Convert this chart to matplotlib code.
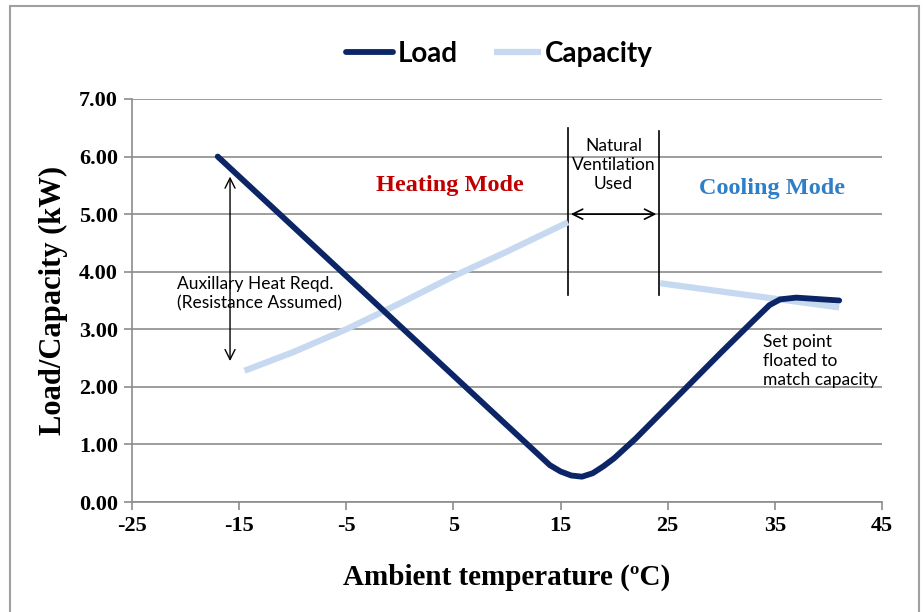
import numpy as np
import matplotlib.pyplot as plt
from matplotlib.patches import Rectangle

# data
load_t = [-17, -10, 0, 10, 14, 15, 16, 17, 18, 19, 20, 22, 26, 30, 33, 34.5, 35.5, 37, 41]
load_kw = [6.0, 4.79, 3.06, 1.33, 0.64, 0.53, 0.46, 0.44, 0.5, 0.62, 0.76, 1.1, 1.85, 2.6, 3.15, 3.42, 3.52, 3.55, 3.5]

cap_heat_t = [-14.5, -10, -5, 0, 5, 10, 15.7]
cap_heat_kw = [2.28, 2.6, 3.0, 3.45, 3.92, 4.35, 4.86]
cap_cool_t = [24.3, 41]
cap_cool_kw = [3.8, 3.38]

xticks = [-25, -15, -5, 5, 15, 25, 35, 45]
yticks = [0, 1, 2, 3, 4, 5, 6, 7]

navy = '#0b2566'
pale = '#c6d9f1'
grid = '#8c8c8c'
serif = 'Liberation Serif'
sans = 'Lato'

fig = plt.figure(figsize=(9.23, 6.12), dpi=100)
ax = fig.add_axes([132/923, 1-502/612, 750/923, 403/612])

ax.plot(cap_heat_t, cap_heat_kw, color=pale, lw=4.5, solid_capstyle='butt', label='Capacity', zorder=3)
ax.plot(cap_cool_t, cap_cool_kw, color=pale, lw=4.5, solid_capstyle='butt', zorder=3)
ax.plot(load_t, load_kw, color=navy, lw=4.2, solid_capstyle='round', solid_joinstyle='round',
        label='Load', zorder=4)

ax.set_xlim(-25, 45)
ax.set_ylim(0, 7)
ax.set_xticks(xticks)
ax.set_yticks(yticks)
ax.set_xticklabels([str(t) for t in xticks], fontfamily=serif, fontweight='bold', fontsize=16)
ax.set_yticklabels(['%.2f' % v for v in yticks], fontfamily=serif, fontweight='bold', fontsize=16)
ax.yaxis.grid(True, color=grid, lw=1.2)
ax.set_axisbelow(True)
for s in ['top', 'right']:
    ax.spines[s].set_visible(False)
for s in ['left', 'bottom']:
    ax.spines[s].set_color(grid)
    ax.spines[s].set_linewidth(1.2)
ax.tick_params(axis='both', color=grid, length=6, width=1.2, pad=4)

ax.set_xlabel('Ambient temperature (ºC)', fontfamily=serif, fontweight='bold', fontsize=21, labelpad=20)
ax.set_ylabel('Load/Capacity (kW)', fontfamily=serif, fontweight='bold', fontsize=22, labelpad=8)

h, l = ax.get_legend_handles_labels()
fig.legend([h[1], h[0]], [l[1], l[0]], loc='center', bbox_to_anchor=(0.541, 1-54/612), ncol=2,
           frameon=False, prop={'family': sans, 'weight': 'bold', 'size': 20},
           handlelength=1.7, handletextpad=0.15, columnspacing=1.3)

# annotations
ax.annotate('', xy=(-15.85, 5.7), xytext=(-15.85, 2.4),
            arrowprops=dict(arrowstyle='<->', color='black', lw=1, mutation_scale=18))
ax.text(-20.8, 3.62, 'Auxillary Heat Reqd.\n(Resistance Assumed)', fontfamily=sans, fontsize=12.5,
        ha='left', va='center', linespacing=1.3)

ax.plot([15.7, 15.7], [3.6, 6.5], color='black', lw=1.2)
ax.plot([24.2, 24.2], [3.6, 6.45], color='black', lw=1.2)
ax.annotate('', xy=(15.7, 5.0), xytext=(24.2, 5.0),
            arrowprops=dict(arrowstyle='<->', color='black', lw=1.2, mutation_scale=18))
ax.text(19.95, 5.85, 'Natural\nVentilation\nUsed', fontfamily=sans, fontsize=12.5,
        ha='center', va='center', linespacing=1.25)

ax.text(4.7, 5.49, 'Heating Mode', fontfamily=serif, fontweight='bold', fontsize=17.5,
        color='#c00000', ha='center', va='center')
ax.text(34.7, 5.44, 'Cooling Mode', fontfamily=serif, fontweight='bold', fontsize=17.5,
        color='#2f7fc8', ha='center', va='center')
ax.text(33.9, 2.45, 'Set point\nfloated to\nmatch capacity', fontfamily=sans, fontsize=12.5,
        ha='left', va='center', linespacing=1.25)

fig.patches.append(Rectangle((10/923, -0.05), 909/923, 1.05 - 6/612, transform=fig.transFigure,
                             fill=False, edgecolor='#a0a0a0', lw=1.5))

fig.savefig('out.png', dpi=100)
